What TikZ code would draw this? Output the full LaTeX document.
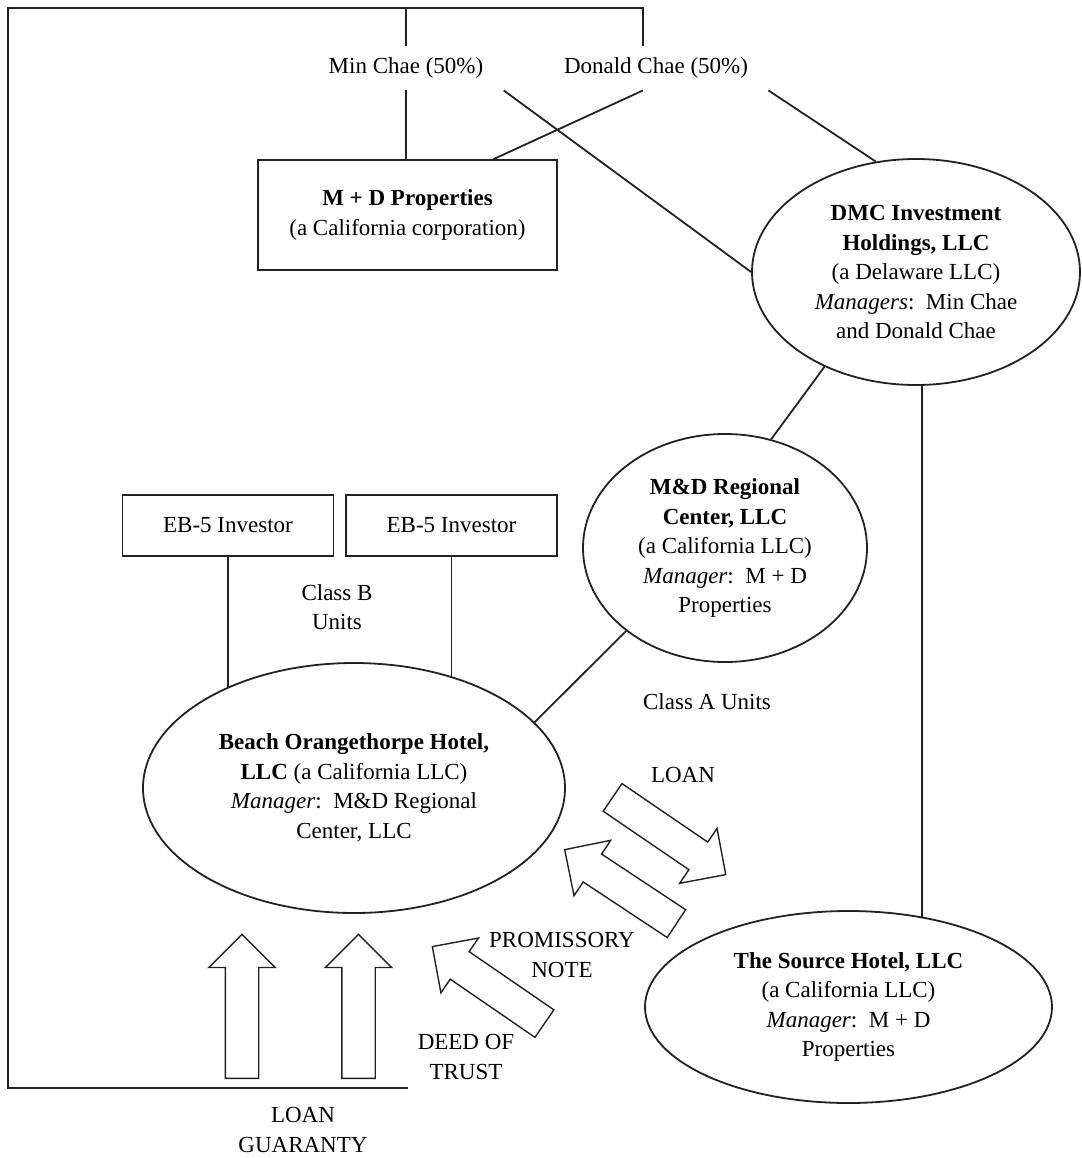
\documentclass[tikz,border=0pt]{standalone}
\usepackage{fontspec}
\setmainfont{Liberation Serif}
\usepackage{tikz}
\usetikzlibrary{shapes.geometric, shapes.arrows}
\definecolor{linegray}{HTML}{222222}
\tikzset{
    basefont/.style={font=\fontsize{11.5pt}{14.75pt}\selectfont},
    owner/.style={basefont, align=center, inner xsep=10pt, inner ysep=0pt, minimum height=22pt},
    entitybox/.style={basefont, rectangle, draw=linegray, line width=0.9pt, align=center, inner sep=0pt},
    entity/.style={basefont, ellipse, draw=linegray, line width=0.9pt, align=center, inner sep=0pt},
    note/.style={basefont, align=center, inner sep=0pt},
    link/.style={draw=linegray, line width=0.9pt},
    blockarrow/.style={
        single arrow,
        draw=linegray,
        line width=0.7pt,
        single arrow head extend=8.25pt,
        inner xsep=0pt,
        inner ysep=8pt,
        minimum width=32.5pt,
        anchor=tail
    }
}

\begin{document}
\begin{tikzpicture}[x=0.5pt, y=-0.5pt]
    \useasboundingbox (0,0) rectangle (1082,1158);

    \node[owner] (minchae) at (406,68) {Min Chae (50\%)};
    \node[owner] (donald) at (656,68) {Donald Chae (50\%)};

    \node[entitybox, minimum width=149.5pt, minimum height=55pt] (mdprops) at (407.5,215)
        {\textbf{M + D Properties}\\(a California corporation)};
    \node[entity, minimum width=164pt, minimum height=113pt] (dmc) at (916,272)
        {\textbf{DMC Investment}\\\textbf{Holdings, LLC}\\(a Delaware LLC)\\\textit{Managers}:\ \ Min Chae\\and Donald Chae};
    \node[entity, minimum width=142pt, minimum height=114pt] (mdrc) at (725,548)
        {\textbf{M\&D Regional}\\\textbf{Center, LLC}\\(a California LLC)\\\textit{Manager}:\ \ M + D\\Properties};
    \node[entitybox, minimum width=105.5pt, minimum height=30.5pt] (eb1) at (228,525.5) {EB-5 Investor};
    \node[entitybox, minimum width=105.5pt, minimum height=30.5pt] (eb2) at (451.5,525.5) {EB-5 Investor};
    \node[entity, minimum width=211pt, minimum height=125pt] (beach) at (354,788)
        {\textbf{Beach Orangethorpe Hotel,}\\\textbf{LLC} (a California LLC)\\\textit{Manager}:\ \ M\&D Regional\\Center, LLC};
    \node[entity, minimum width=203.5pt, minimum height=96pt] (source) at (848.5,1007)
        {\textbf{The Source Hotel, LLC}\\(a California LLC)\\\textit{Manager}:\ \ M + D\\Properties};

    \node[note] (classb) at (337,607) {Class B\\Units};
    \node[note] (classa) at (707,702) {Class A Units};
    \node[note] (loanlabel) at (683,775) {LOAN};
    \node[note] (notelabel) at (562,955) {PROMISSORY\\NOTE};
    \node[note] (deedlabel) at (466,1057) {DEED OF\\TRUST};
    \node[note] (guarantylabel) at (303,1130) {LOAN\\GUARANTY};

    % block arrows
    \node[blockarrow, minimum height=72pt, rotate=90] (guarantyA) at (242,1079) {};
    \node[blockarrow, minimum height=72pt, rotate=90] (guarantyB) at (358.5,1079) {};
    \node[blockarrow, minimum height=68.5pt, rotate=-34.3] (loanarrow) at (612,797) {};
    \node[blockarrow, minimum height=67pt, rotate=146.5] (notearrow) at (677,924) {};
    \node[blockarrow, minimum height=68pt, rotate=145.5] (deedarrow) at (545,1024) {};

    \coordinate (topleft) at (8,8);
    \coordinate (guarantyend) at (408,1088);

    \draw[link] (donald.120) |- (topleft) |- (guarantyend);
    \draw[link] (minchae.north) -- (minchae.north |- topleft);
    \draw[link] (minchae.south) -- (minchae.south |- mdprops.north);
    \draw[link] (donald.240) -- (mdprops.33);
    \draw[link] (minchae.south east) -- (dmc.west);
    \draw[link] (donald.south east) -- (dmc.110);
    \draw[link] (dmc.226) -- (mdrc.67);
    \draw[link] (mdrc.220) -- (beach.20);
    \draw[link] (eb1.south) -- (eb1.south |- beach.141.5);
    \draw[link] (eb2.south) -- (eb2.south |- beach.48.7);
    \draw[link] (dmc.273) -- (dmc.273 |- source.51);
\end{tikzpicture}
\end{document}
